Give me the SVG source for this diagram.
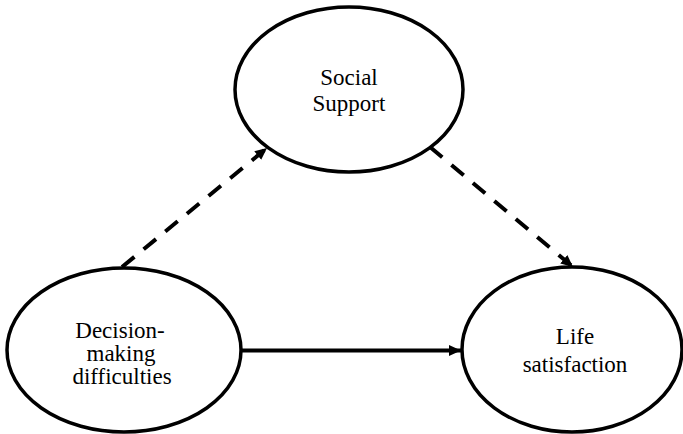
<svg xmlns="http://www.w3.org/2000/svg" width="683" height="434" viewBox="0 0 683 434">
  <defs>
    <marker id="arrow" viewBox="0 0 12 12" refX="12" refY="6" markerWidth="12" markerHeight="12" markerUnits="userSpaceOnUse" orient="auto">
      <path d="M0,0.5 L12,6 L0,11.5 Z" fill="#000000"/>
    </marker>
  </defs>
  <rect width="683" height="434" fill="#ffffff"/>
  <g id="connectors" fill="none" stroke="#000000" stroke-width="4">
    <line stroke-dasharray="16 12" x1="122" y1="267" x2="267" y2="148" marker-end="url(#arrow)"/>
    <line stroke-dasharray="16 12" x1="430" y1="147" x2="573" y2="267" marker-end="url(#arrow)"/>
    <line x1="241" y1="350.5" x2="461" y2="350.5" marker-end="url(#arrow)"/>
  </g>
  <g font-family="Times New Roman, Liberation Serif, Tinos, serif" font-size="23" fill="#000000" text-anchor="middle">
    <g id="social-support">
      <ellipse cx="349" cy="89.5" rx="114" ry="82.5" fill="#ffffff" stroke="#000000" stroke-width="3.5"/>
      <text x="349" y="85">Social</text>
      <text x="349" y="111">Support</text>
    </g>
    <g id="decision-making">
      <ellipse cx="124" cy="350" rx="117" ry="82" fill="#ffffff" stroke="#000000" stroke-width="3.5"/>
      <text x="120" y="338">Decision-</text>
      <text x="121" y="361">making</text>
      <text x="122" y="384">difficulties</text>
    </g>
    <g id="life-satisfaction">
      <ellipse cx="572" cy="349.5" rx="110" ry="82.5" fill="#ffffff" stroke="#000000" stroke-width="3.5"/>
      <text x="575" y="344">Life</text>
      <text x="575" y="372">satisfaction</text>
    </g>
  </g>
</svg>
